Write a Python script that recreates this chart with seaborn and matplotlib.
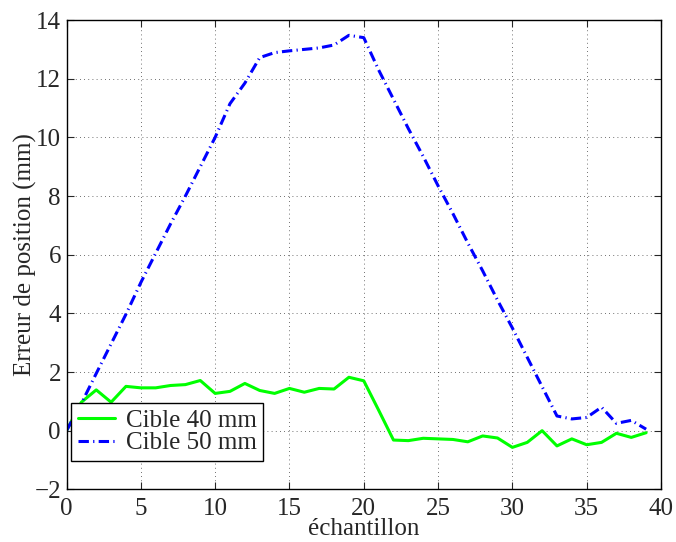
import matplotlib

matplotlib.use("Agg")

import matplotlib.pyplot as plt
import numpy as np
import pandas as pd
import seaborn as sns


# sample index
echantillon = list(range(40))

# position error (mm), target 40 mm
cible_40 = [
    0.0, 0.97, 1.39, 0.97, 1.51, 1.46, 1.46, 1.54, 1.57, 1.71,
    1.27, 1.34, 1.61, 1.37, 1.27, 1.44, 1.31, 1.44, 1.42, 1.82,
    1.70, 0.70, -0.32, -0.34, -0.26, -0.28, -0.30, -0.38, -0.18, -0.25,
    -0.57, -0.40, 0.0, -0.52, -0.28, -0.48, -0.40, -0.09, -0.23, -0.07,
]

# position error (mm), target 50 mm
cible_50 = [
    0.0, 0.93, 1.95, 2.96, 3.97, 5.05, 6.05, 7.05, 8.0, 9.0,
    10.0, 11.15, 11.85, 12.72, 12.89, 12.95, 13.0, 13.05, 13.15, 13.48,
    13.40, 12.30, 11.30, 10.30, 9.35, 8.35, 7.40, 6.40, 5.45, 4.45,
    3.50, 2.50, 1.50, 0.50, 0.40, 0.45, 0.80, 0.25, 0.35, 0.05,
]

x_ticks = [0, 5, 10, 15, 20, 25, 30, 35, 40]
y_ticks = [-2, 0, 2, 4, 6, 8, 10, 12, 14]

df = pd.DataFrame(
    {
        "echantillon": echantillon,
        "cible_40": cible_40,
        "cible_50": cible_50,
    }
)

sns.set_style("ticks")
plt.rcParams["font.family"] = ["Liberation Serif", "DejaVu Serif"]
plt.rcParams["font.size"] = 18
plt.rcParams["axes.unicode_minus"] = True

fig = plt.figure(figsize=(6.76, 5.42), dpi=100)
ax = fig.add_axes([0.0984, 0.0972, 0.8794, 0.8658])

sns.lineplot(
    data=df,
    x="echantillon",
    y="cible_40",
    color="#00ff00",
    linewidth=2.2,
    label="Cible 40 mm",
    ax=ax,
)
sns.lineplot(
    data=df,
    x="echantillon",
    y="cible_50",
    color="#0000ff",
    linewidth=2.2,
    linestyle=(0, (3.4, 1.4, 0.4, 1.4)),
    label="Cible 50 mm",
    ax=ax,
)

ax.set_xlim(0, 40)
ax.set_ylim(-2, 14)
ax.set_xticks(x_ticks)
ax.set_yticks(y_ticks)

ax.grid(True, linestyle=(0, (1, 4)), color="black", linewidth=0.6, alpha=0.75)
ax.tick_params(
    direction="in",
    length=5,
    width=0.8,
    top=True,
    right=True,
    labelsize=18,
)
ax.tick_params(axis="x", pad=6)
ax.tick_params(axis="y", pad=4)
for spine in ax.spines.values():
    spine.set_visible(True)
    spine.set_linewidth(1.0)
    spine.set_color("black")

ax.set_xlabel("échantillon", fontsize=18, labelpad=-1)
ax.set_ylabel("Erreur de position (mm)", fontsize=18, labelpad=-2)

leg = ax.legend(
    loc="lower left",
    bbox_to_anchor=(0.008, 0.061),
    borderaxespad=0,
    fancybox=False,
    framealpha=1,
    edgecolor="black",
    fontsize=18,
    handlelength=1.5,
    handletextpad=0.45,
    labelspacing=0.0,
    borderpad=0.25,
)
leg.get_frame().set_linewidth(1.0)

plt.savefig("out.png", dpi=100)
plt.close(fig)
